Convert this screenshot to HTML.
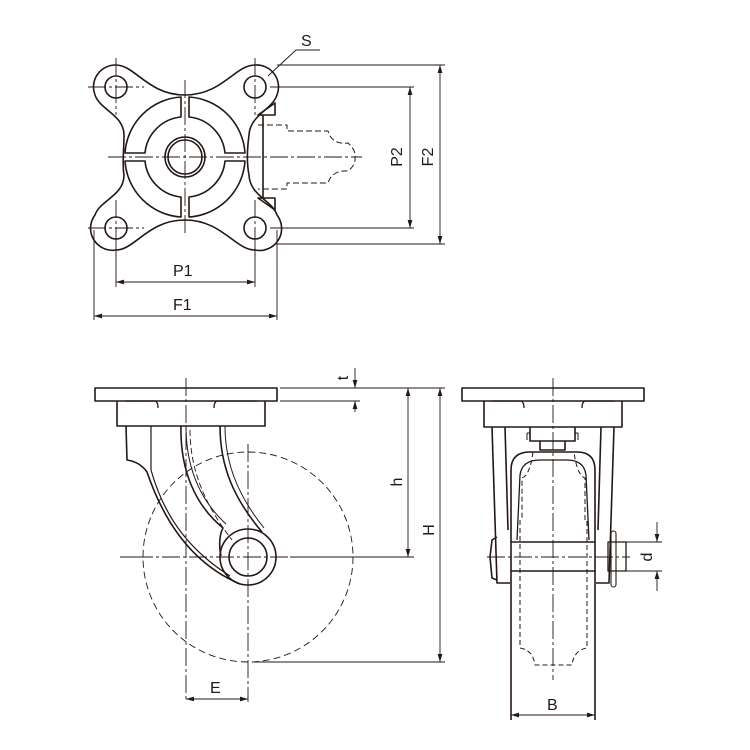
<!DOCTYPE html>
<html><head><meta charset="utf-8"><style>
html,body{margin:0;padding:0;background:#fff;}
svg{display:block;}
text{font-family:"Liberation Sans",sans-serif;font-size:16px;fill:#231815;}
</style></head><body>
<svg width="750" height="750" viewBox="0 0 750 750" xmlns="http://www.w3.org/2000/svg">
<defs>
<marker id="a" viewBox="0 0 10 10" refX="10" refY="5" markerWidth="8" markerHeight="8" orient="auto-start-reverse" markerUnits="userSpaceOnUse"><path d="M0,2 L10,5 L0,8 z" fill="#231815"/></marker>
</defs>
<g fill="none" stroke="#231815" stroke-linejoin="round">
<!-- ============ TOP VIEW ============ -->
<g stroke-width="1.6">
<path d="M116,65 A22,22 0 0 0 95,95 C100,110 124,115 124,135 C124,150 122,165 124,175 C124,196 100,200 95,215 A22,22 0 0 0 116,250 C135,250 148,220 185,220 C222,220 235,250 255,250 A22,22 0 0 0 277,215 C272,200 250,196 249,175 C247,165 247,150 249,135 C250,115 272,110 277,95 A22,22 0 0 0 255,65 C235,65 222,95 185,95 C148,95 135,65 116,65 Z"/>
<circle cx="116" cy="87" r="11"/><circle cx="255" cy="87" r="11"/>
<circle cx="116" cy="228" r="11"/><circle cx="255" cy="228" r="11"/>
<circle cx="185" cy="157" r="20"/><circle cx="185" cy="157" r="17"/>
<path d="M181,97 A60,60 0 0 0 125,153 L145,153 A40,40 0 0 1 181,117 Z"/>
<path d="M189,97 A60,60 0 0 1 245,153 L225,153 A40,40 0 0 0 189,117 Z"/>
<path d="M181,217 A60,60 0 0 1 125,161 L145,161 A40,40 0 0 0 181,197 Z"/>
<path d="M189,217 A60,60 0 0 0 245,161 L225,161 A40,40 0 0 1 189,197 Z"/>
<path d="M263,115 L263,198"/>
<path d="M258,115 L275,103 L275,115 Z"/>
<path d="M258,198 L275,210 L275,198 Z"/>
</g>
<path d="M258,125 L287,125 L287,131 L328,131 Q332,145 348,143 Q356,150 355,157 Q356,165 348,171 Q332,170 328,183 L287,183 L287,189 L258,189" stroke-width="1" stroke-dasharray="6,3"/>
<g stroke-width="0.9" stroke-dasharray="18,3,3,3">
<path d="M88,87 L144,87 M88,228 L144,228 M116,58 L116,115 M116,200 L116,256 M255,58 L255,115 M255,200 L255,256"/>
<path d="M108,157 L362,157 M185,80 L185,235"/>
</g>
<g stroke-width="0.9">
<path d="M277,65 L445,65 M270,87 L414,87 M270,228 L414,228 M277,244 L445,244"/>
<path d="M94,230 L94,320 M116,245 L116,287 M255,245 L255,287 M277,230 L277,320"/>
<path d="M116,282 L255,282" marker-start="url(#a)" marker-end="url(#a)"/>
<path d="M94,316 L277,316" marker-start="url(#a)" marker-end="url(#a)"/>
<path d="M410,87 L410,228" marker-start="url(#a)" marker-end="url(#a)"/>
<path d="M440,65 L440,244" marker-start="url(#a)" marker-end="url(#a)"/>
<path d="M268,76 L296,50 L320,50"/>
</g>

<!-- ============ SIDE VIEW ============ -->
<g stroke-width="1.6">
<rect x="95" y="388" width="182" height="13"/>
<path d="M117,401 L117,426 L265,426 L265,401"/>
<path d="M125,401 L154,401 Q158,401 158,408 M257,401 L218,401 Q214,401 214,408" stroke-width="1.3"/>
<path d="M126,426 L127,460 Q140,462 147,472 C165,525 195,565 240,584"/>
<path d="M151,426 L151,470 C165,520 192,552 230,576" stroke-width="1.2"/>
<path d="M181,426 C180,470 195,505 223,528 C219,535 219,548 221,556"/>
<path d="M186,426 C186,468 200,500 226,524" stroke-width="1"/>
<path d="M220,426 C220,468 235,500 262,532"/>
<path d="M225,426 C225,466 240,498 264,528" stroke-width="1"/>
<circle cx="248" cy="557" r="28"/>
<circle cx="248" cy="557" r="19"/>
</g>
<path d="M190,430 C190,470 205,505 232,540" stroke-width="0.9" stroke-dasharray="6,3"/>
<circle cx="248" cy="557" r="105" stroke-width="0.9" stroke-dasharray="7,4"/>
<g stroke-width="0.9" stroke-dasharray="18,3,3,3">
<path d="M186,378 L186,702"/>
<path d="M248,444 L248,702"/>
<path d="M135,557 L290,557"/>
</g>
<g stroke-width="0.9">
<path d="M120,557 L135,557 M290,557 L414,557"/>
<path d="M280,388 L445,388 M280,401 L360,401 M252,662 L445,662"/>
<path d="M408,388 L408,557" marker-start="url(#a)" marker-end="url(#a)"/>
<path d="M440,388 L440,662" marker-start="url(#a)" marker-end="url(#a)"/>
<path d="M355,368 L355,388" marker-end="url(#a)"/>
<path d="M355,412 L355,401" marker-end="url(#a)"/>
<path d="M186,699 L248,699" marker-start="url(#a)" marker-end="url(#a)"/>
</g>

<!-- ============ FRONT VIEW ============ -->
<g stroke-width="1.6">
<rect x="462" y="388" width="182" height="13"/>
<path d="M484,401 L484,427 L622,427 L622,401"/>
<path d="M492,401 L520,401 Q524,401 524,408 M614,401 L586,401 Q582,401 582,408" stroke-width="1.3"/>
<path d="M492,427 L497,583 L510,583 M505,427 L508,530"/>
<path d="M614,427 L609,583 L596,583 M601,427 L598,530"/>
<path d="M530,427 L530,441 L575,441 L575,427 M540,441 L540,450 L565,450 L565,441"/>
<path d="M527,433 L530,433 M527,433 L527,440 M578,433 L575,433 M578,433 L578,440" stroke-width="1"/>
<path d="M511,720 L511,470 Q511,452 530,452 L577,452 Q595,452 595,470 L595,720"/>
<path d="M517,540 L520,475 Q522,460 540,460 L567,460 Q584,460 586,475 L589,540" stroke-width="1.3"/>
<path d="M511,542 L595,542 M511,571 L595,571"/>
<path d="M497,537 L492,540 L490,557 L492,578 L497,580"/>
<rect x="608" y="542" width="18" height="29" stroke-width="1.3"/>
<rect x="611" y="531" width="5" height="56" rx="2.5" stroke-width="1.1"/>
</g>
<path d="M533,452 Q530,475 522,478 L522,520 M520,520 L520,648 Q533,650 535,665 L572,665 Q574,650 587,648 L587,520 M585,520 L585,478 Q577,475 574,452" stroke-width="1" stroke-dasharray="5,3"/>
<g stroke-width="0.9" stroke-dasharray="18,3,3,3">
<path d="M553,378 L553,680"/>
<path d="M487,557 L630,557"/>
</g>
<g stroke-width="0.9">
<path d="M626,542 L662,542 M626,571 L662,571"/>
<path d="M657,522 L657,542" marker-end="url(#a)"/>
<path d="M657,591 L657,571" marker-end="url(#a)"/>
<path d="M511,715 L595,715" marker-start="url(#a)" marker-end="url(#a)"/>
</g>
</g>
<text x="301" y="46">S</text>
<text x="173" y="276">P1</text>
<text x="173" y="310">F1</text>
<text transform="translate(402,157) rotate(-90)" text-anchor="middle">P2</text>
<text transform="translate(433,157) rotate(-90)" text-anchor="middle">F2</text>
<text transform="translate(348,378) rotate(-90)" text-anchor="middle">t</text>
<text transform="translate(402,482) rotate(-90)" text-anchor="middle">h</text>
<text transform="translate(434,530) rotate(-90)" text-anchor="middle">H</text>
<text x="210" y="693">E</text>
<text x="547" y="710">B</text>
<text transform="translate(652,557) rotate(-90)" text-anchor="middle">d</text>
</svg>
</body></html>
